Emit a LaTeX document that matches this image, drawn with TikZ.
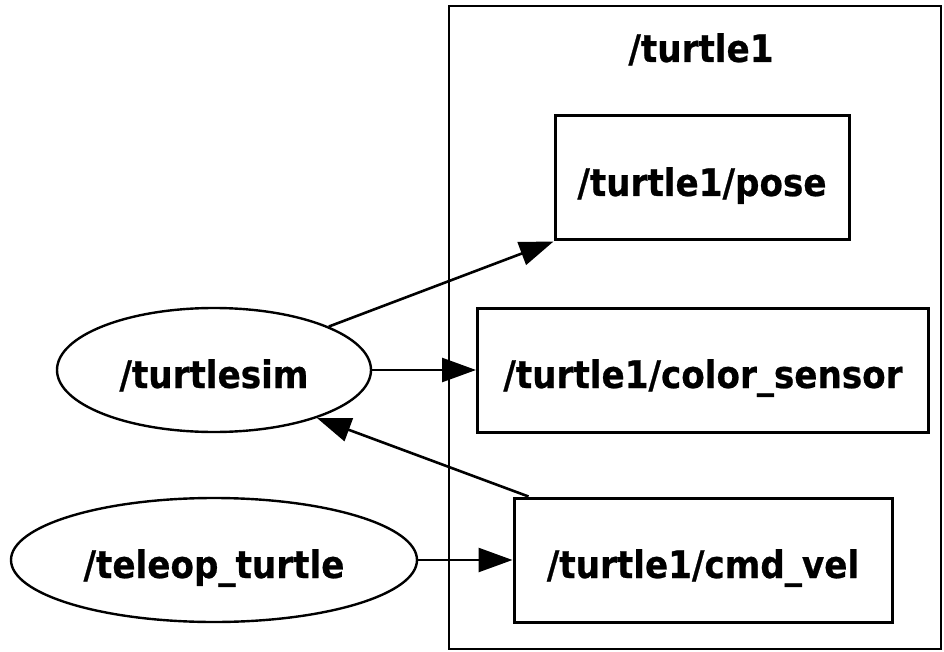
\documentclass[tikz,border=0pt]{standalone}
\usepackage{fontspec}
\setmainfont{DejaVu Sans}[FakeStretch=0.9, BoldFeatures={FakeBold=0.6}]
\usetikzlibrary{arrows.meta,shapes.geometric}

\begin{document}
\begin{tikzpicture}[x=1pt,y=-1pt,
  lbl/.style={font=\fontsize{38}{44}\selectfont\bfseries, text height=44pt, text depth=8pt, inner sep=0pt},
  topic/.style={lbl, draw, rectangle, line width=3pt, minimum height=124pt},
  proc/.style={lbl, draw, ellipse, line width=2.4pt, minimum height=124pt},
  flow/.style={line width=2.6pt, -{Triangle[length=34pt,width=24pt]}},
]
\useasboundingbox (0,0) rectangle (944,652);

% namespace cluster
\node[draw, line width=2.4pt, minimum width=492pt, minimum height=643pt, anchor=north west, inner sep=0pt] (cluster) at (448,5) {};
\node[lbl] (clabel) at (701,44) {/turtle1};

% topics
\node[topic, minimum width=294pt] (pose) at (702,178) {/turtle1/pose};
\node[topic, minimum width=451pt] (color) at (703,370) {/turtle1/color\_sensor};
\node[topic, minimum width=378pt] (cmd) at (703,560) {/turtle1/cmd\_vel};

% nodes
\node[proc, minimum width=314pt] (sim) at (214,370) {/turtlesim};
\node[proc, minimum width=406pt] (tele) at (214,560) {/teleop\_turtle};

% connections
\draw[flow] (sim) -- (pose.south west);
\draw[flow] (sim) -- (color);
\draw[flow] ([xshift=16pt]cmd.north west) -- (sim.-25);
\draw[flow] (tele) -- (cmd);
\end{tikzpicture}
\end{document}
